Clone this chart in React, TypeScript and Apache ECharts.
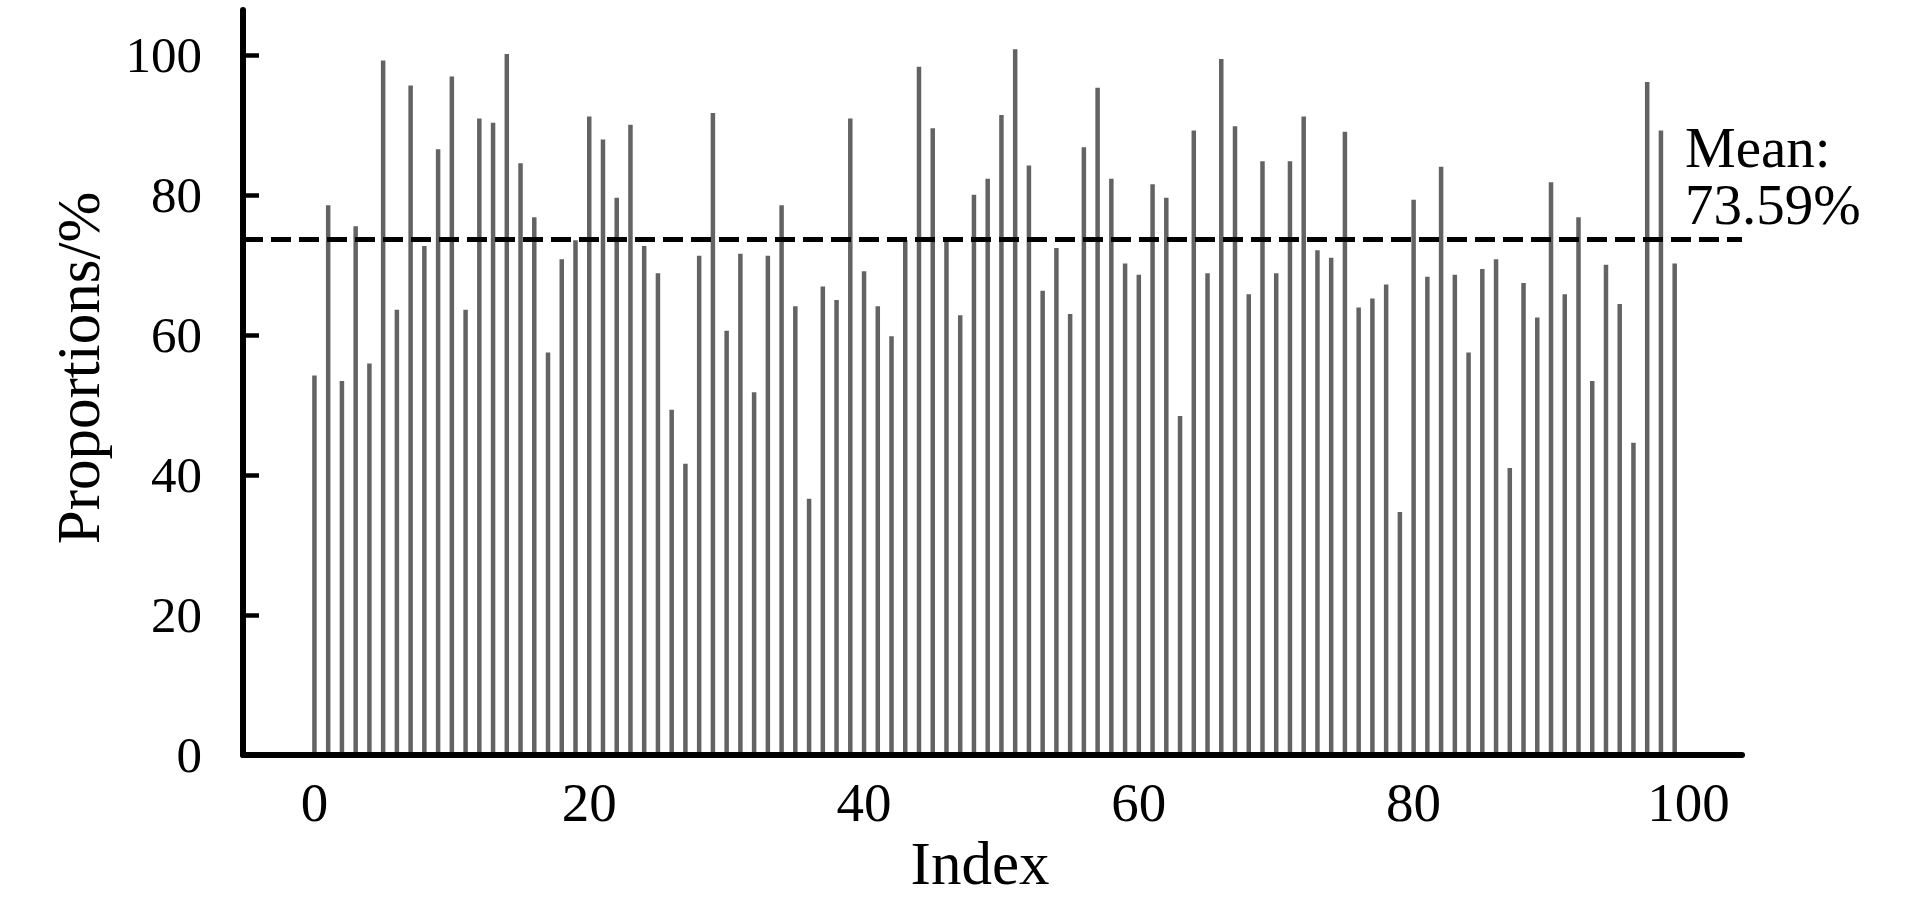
import React, { useEffect, useRef } from "react";
import * as echarts from "echarts";

const VALUES: number[] = [
  54.2, 78.5, 53.4, 75.5, 55.9, 99.2, 63.6, 95.6, 72.7, 86.5,
  96.9, 63.6, 90.9, 90.3, 100.1, 84.5, 76.8, 57.5, 70.8, 73.5,
  91.2, 87.9, 79.6, 90.0, 72.7, 68.8, 49.3, 41.6, 71.3, 91.7,
  60.6, 71.6, 51.8, 71.3, 78.5, 64.1, 36.6, 66.9, 65.0, 90.9,
  69.1, 64.1, 59.8, 73.5, 98.3, 89.5, 73.5, 62.8, 80.0, 82.3,
  91.4, 100.8, 84.2, 66.3, 72.4, 63.0, 86.8, 95.3, 82.3, 70.2,
  68.6, 81.5, 79.6, 48.4, 89.2, 68.8, 99.4, 89.8, 65.8, 84.8,
  68.8, 84.8, 91.2, 72.1, 71.0, 89.0, 63.9, 65.2, 67.2, 34.7,
  79.3, 68.3, 84.0, 68.6, 57.5, 69.4, 70.8, 41.0, 67.4, 62.5,
  81.8, 65.8, 76.8, 53.4, 70.0, 64.4, 44.6, 96.1, 89.2, 70.2,
];
const INDICES: number[] = VALUES.map((_, i) => i);
const MEAN = 73.59;
const X_TICKS = [0, 20, 40, 60, 80, 100];
const Y_TICKS = [0, 20, 40, 60, 80, 100];
const X_NAME = "Index";
const Y_NAME = "Proportions/%";
const MEAN_TITLE = "Mean:";

const FONT = "Liberation Serif";

export default function App() {
  const ref = useRef<HTMLDivElement>(null);
  useEffect(() => {
    if (!ref.current) return;
    const chart = echarts.init(ref.current, null, { renderer: "svg" });
    chart.setOption({
      animation: false,
      backgroundColor: "#ffffff",
      grid: { left: 243, right: 171, top: 10, bottom: 143 },
      xAxis: {
        type: "value",
        min: -5.2,
        max: 103.9,
        z: 5,
        axisLine: { show: true, onZero: false, lineStyle: { color: "#000", width: 6 } },
        axisTick: { show: false },
        splitLine: { show: false },
        axisLabel: {
          customValues: X_TICKS,
          color: "#000",
          fontFamily: FONT,
          fontSize: 55,
          margin: 20,
        },
      },
      yAxis: {
        type: "value",
        min: 0,
        max: 106.4,
        z: 5,
        axisLine: { show: true, onZero: false, lineStyle: { color: "#000", width: 6 } },
        axisTick: {
          show: true,
          inside: true,
          length: 16,
          customValues: Y_TICKS,
          lineStyle: { color: "#000", width: 4.5 },
        },
        splitLine: { show: false },
        axisLabel: {
          customValues: Y_TICKS,
          color: "#000",
          fontFamily: FONT,
          fontSize: 51,
          margin: 41,
        },
      },
      series: [
        {
          type: "bar",
          data: VALUES.map((v, i) => [INDICES[i], v]),
          barWidth: 4.5,
          itemStyle: { color: "#636363" },
          markLine: {
            silent: true,
            symbol: ["none", "none"],
            label: { show: false },
            lineStyle: { color: "#000", width: 5, type: [20, 8] },
            data: [{ yAxis: MEAN }],
          },
        },
      ],
      graphic: [
        {
          type: "text",
          x: 1685,
          y: 176,
          style: {
            text: MEAN_TITLE + "\n" + MEAN.toFixed(2) + "%",
            fontFamily: FONT,
            fontSize: 57,
            lineHeight: 57,
            fill: "#000",
            align: "left",
            verticalAlign: "middle",
          },
        },
        {
          type: "text",
          x: 980,
          y: 863,
          style: {
            text: X_NAME,
            fontFamily: FONT,
            fontSize: 61,
            lineHeight: 61,
            fill: "#000",
            align: "center",
            verticalAlign: "middle",
          },
        },
        {
          type: "text",
          x: 78,
          y: 368,
          rotation: Math.PI / 2,
          style: {
            text: Y_NAME,
            fontFamily: FONT,
            fontSize: 61,
            fill: "#000",
            align: "center",
            verticalAlign: "middle",
          },
        },
      ],
    });
    return () => chart.dispose();
  }, []);
  return (
    <div
      ref={ref}
      style={{ position: "absolute", left: 0, top: 0, width: 1913, height: 898 }}
    />
  );
}
